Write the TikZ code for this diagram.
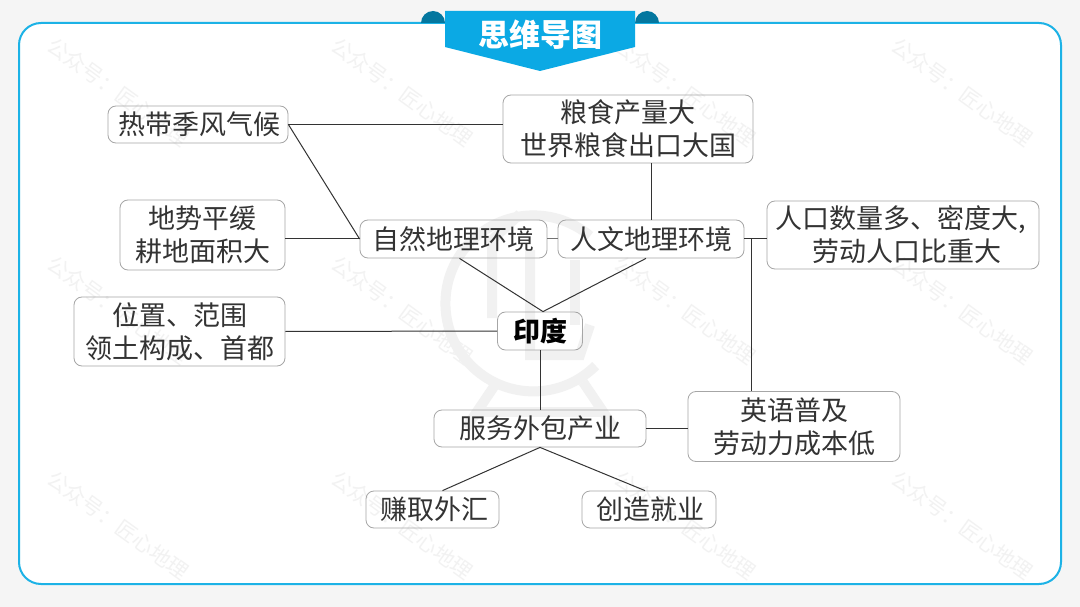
\documentclass[tikz,border=0pt]{standalone}
\usepackage{fontspec}
\setmainfont{Noto Sans CJK SC}
\usepackage{tikz}
\usetikzlibrary{calc}
\definecolor{pagegray}{HTML}{F5F5F5}
\definecolor{framecyan}{HTML}{1CB2E6}
\definecolor{bannerblue}{HTML}{0BA9E4}
\definecolor{curlteal}{HTML}{04779F}
\definecolor{markgray}{HTML}{F2F2F2}
\definecolor{logogray}{HTML}{F1F1F1}
\tikzstyle{mapbox} = [
  rectangle, draw=black!35, line width=0.8pt,
  rounded corners=8pt, align=center, inner sep=0pt,
  font=\fontsize{27}{33}\selectfont, text=black!80
]
\tikzstyle{mapedge} = [draw=black!80, line width=1pt]
\tikzstyle{watermark} = [text=markgray, font=\fontsize{21}{21}\selectfont, rotate=-36]
\tikzstyle{logostroke} = [draw=logogray, line width=10pt]

\begin{document}
\begin{tikzpicture}[x=1pt, y=-1pt]
  \useasboundingbox (0,0) rectangle (1080,607);

  % Page and frame
  \fill[pagegray] (0,0) rectangle (1080,607);
  \draw[framecyan, fill=white, line width=2pt, rounded corners=22pt] (19,23) rectangle (1061,584);

  % Watermarks
  \foreach \py/\wy in {92/a, 310/b, 525/c}
    \foreach \px/\wx in {118/a, 402/b, 685/c, 962/d}
      \node[watermark] (mark\wy\wx) at (\px,\py) {公众号：匠心地理};

  % Logo
  \draw[logostroke] (590,236) arc[start angle=-50, end angle=-315, radius=88];
  \draw[logostroke] (492,318) -- (492,240) -- (520,214);
  \draw[logostroke] (530,250) -- (530,355) -- (580,355) -- (590,325);
  \draw[logostroke] (575,260) -- (575,325);
  \draw[logostroke] (497,382) -- (466,428);
  \draw[logostroke] (583,382) -- (614,428);
  \draw[logostroke] (478,412) -- (602,412);

  % Banner
  \fill[curlteal] (421,23) arc[start angle=180, end angle=360, radius=12] -- cycle;
  \fill[curlteal] (635,23) arc[start angle=180, end angle=360, radius=12] -- cycle;
  \fill[bannerblue] (445,11) -- (635,11) -- (635,47) -- (540,71) -- (445,47) -- cycle;
  \node[text=white, font=\fontsize{31}{31}\selectfont\bfseries] (title) at (540,35) {思维导图};

  % Left column
  \node[mapbox, minimum width=180pt, minimum height=37pt] (monsoon) at (198,124.5) {\hspace*{3pt}热带季风气候};
  \node[mapbox, minimum width=165pt, minimum height=70pt] (terrain) at (202.5,235) {地势平缓\\耕地面积大};
  \node[mapbox, minimum width=211pt, minimum height=69pt] (location) at (179.5,331.5) {位置、范围\\领土构成、首都};

  % Middle
  \node[mapbox, minimum width=250pt, minimum height=68pt] (grain) at (628,129) {粮食产量大\\世界粮食出口大国};
  \node[mapbox, minimum width=187pt, minimum height=38pt] (nature) at (453.5,239) {自然地理环境};
  \node[mapbox, minimum width=186pt, minimum height=38pt] (human) at (651,239) {人文地理环境};
  \node[mapbox, minimum width=85pt, minimum height=38pt, font=\fontsize{27}{33}\selectfont\bfseries, text=black] (india) at (540,331) {印度};
  \node[mapbox, minimum width=212pt, minimum height=37pt] (outsource) at (540,428.5) {服务外包产业};
  \node[mapbox, minimum width=133pt, minimum height=37pt] (forex) at (432.5,509.5) {\hspace*{4pt}赚取外汇};
  \node[mapbox, minimum width=134pt, minimum height=37pt] (jobs) at (649,509.5) {\hspace*{2pt}创造就业};

  % Right column
  \node[mapbox, minimum width=272pt, minimum height=68pt] (people) at (903,235) {\hspace*{-5pt}人口数量多、密度大,\\\hspace*{7pt}劳动人口比重大};
  \node[mapbox, minimum width=212pt, minimum height=70pt] (english) at (794,426.5) {英语普及\\劳动力成本低};

  % Junction after human
  \coordinate (joinx) at ($(human.east)+(7,0)$);

  % Connections
  \draw[mapedge] (monsoon.east) -- (monsoon.east -| grain.west);
  \draw[mapedge] (monsoon.east) -- (nature.west);
  \draw[mapedge] (terrain.east |- nature.west) -- (nature.west);
  \draw[mapedge] (location.east) -- (india.west);
  \draw[mapedge] (grain.south -| human.north) -- (human.north);
  \draw[mapedge, draw=black!55] (nature.east) -- (human.west);
  \draw[mapedge] ([xshift=6pt]nature.south) -- ([xshift=3pt]india.north);
  \draw[mapedge] ([xshift=-5pt]human.south) -- ([xshift=3pt]india.north);
  \draw[mapedge] (human.east) -- (people.west |- human.east);
  \draw[mapedge] (joinx) -- (joinx |- english.north);
  \draw[mapedge] (india.south) -- (outsource.north);
  \draw[mapedge] (outsource.east) -- (outsource.east -| english.west);
  \draw[mapedge] (outsource.south) -- ([xshift=10pt]forex.north);
  \draw[mapedge] (outsource.south) -- ([xshift=-4pt]jobs.north);

\end{tikzpicture}
\end{document}
